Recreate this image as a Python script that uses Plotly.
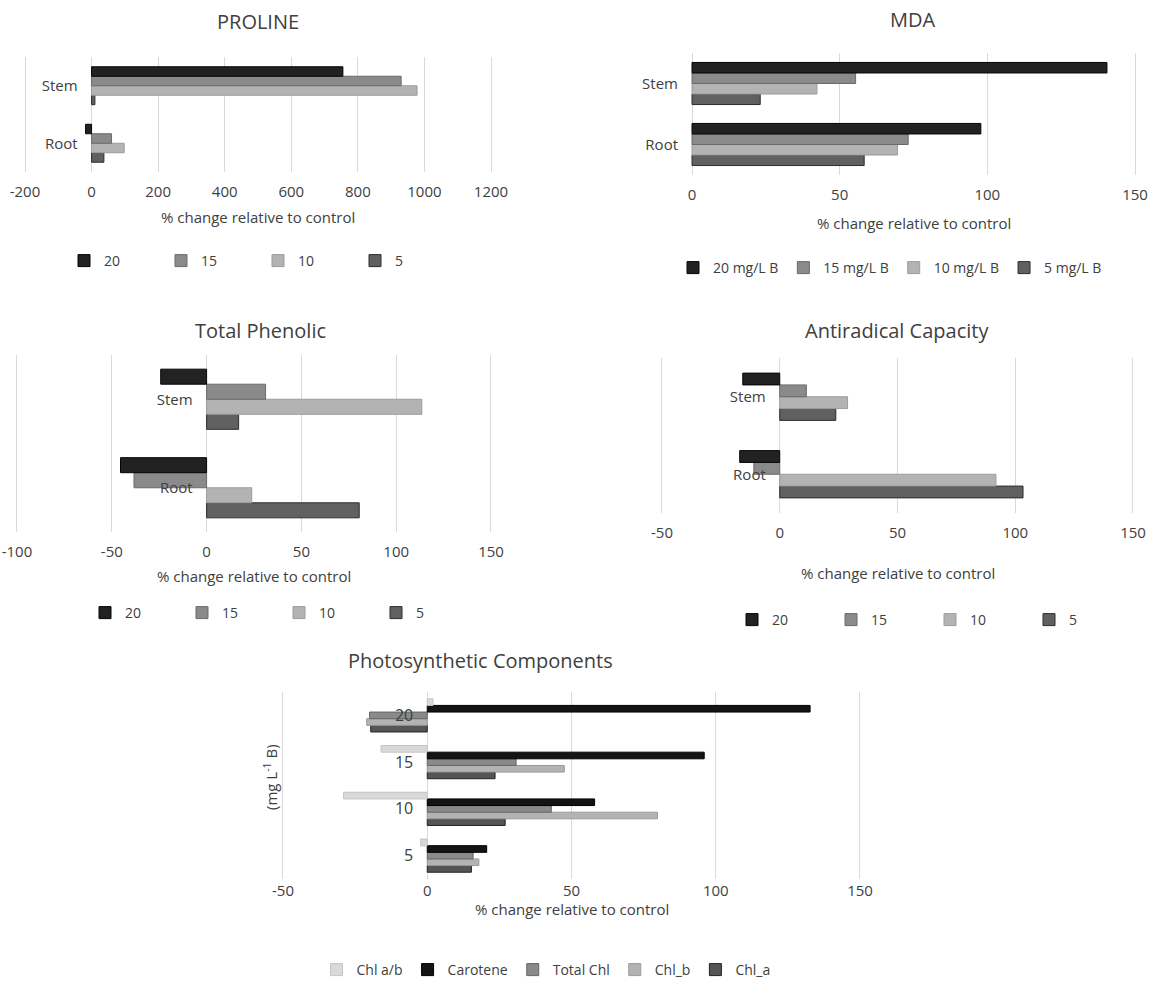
import plotly.graph_objects as go

W, H = 1153, 985

# ---------------- data ----------------
parts = ["Root", "Stem"]                      # bottom -> top
doses = ["5", "10", "15", "20"]               # trace order (bottom bar first)

proline_20 = [-18, 755]
proline_15 = [60, 930]
proline_10 = [98, 978]
proline_5 = [37, 10]

mda_20 = [97.8, 140.5]
mda_15 = [73.2, 55.4]
mda_10 = [69.6, 42.3]
mda_5 = [58.3, 23.1]

phen_20 = [-45.4, -24.2]
phen_15 = [-38.3, 31.1]
phen_10 = [23.8, 113.5]
phen_5 = [80.5, 16.9]

anti_20 = [-17.0, -15.7]
anti_15 = [-11.0, 11.3]
anti_10 = [91.8, 28.8]
anti_5 = [103.3, 23.8]

ps_doses = ["5", "10", "15", "20"]            # bottom -> top
ps_names = ["Chl_a", "Chl_b", "Total Chl", "Carotene", "Chl a/b"]  # bottom bar first
chl_a = [15.3, 27.0, 23.5, -19.6]
chl_b = [17.9, 79.8, 47.5, -21.0]
total_chl = [15.9, 43.0, 30.8, -20.0]
carotene = [20.6, 58.0, 96.0, 132.7]
chl_ab = [-2.3, -29.0, -16.0, 2.0]

proline_ticks = [-200, 0, 200, 400, 600, 800, 1000, 1200]
mda_ticks = [0, 50, 100, 150]
phen_ticks = [-100, -50, 0, 50, 100, 150]
anti_ticks = [-50, 0, 50, 100, 150]
ps_ticks = [-50, 0, 50, 100, 150]

x_title = "% change relative to control"

# ---------------- styles ----------------
dose_fill = {"20": "#222222", "15": "#8a8a8a", "10": "#b3b3b3", "5": "#606060"}
dose_line = {"20": "#050505", "15": "#6a6a6a", "10": "#9c9c9c", "5": "#2e2e2e"}
ps_fill = {"Chl_a": "#555555", "Chl_b": "#b3b3b3", "Total Chl": "#8a8a8a",
           "Carotene": "#141414", "Chl a/b": "#d9d9d9"}
ps_line = {"Chl_a": "#222222", "Chl_b": "#9a9a9a", "Total Chl": "#666666",
           "Carotene": "#000000", "Chl a/b": "#c4c4c4"}

FONT = "Open Sans"
TXT = "#404040"
GRID = "#d9d9d9"


def fx(px):
    return px / W


def fy(py):
    return 1 - py / H


fig = go.Figure()
layout = {}
annotations = []


def add_panel(idx, cats, series, names, fills, lines, ticks,
              xdom, ydom, frac, legend_id, legend_cfg, title, title_xy,
              xtitle_y, tickfont=15, xstandoff=9):
    xa = "x" if idx == 1 else f"x{idx}"
    ya = "y" if idx == 1 else f"y{idx}"
    n = len(series)
    w = frac / n
    for i, (name, vals) in enumerate(zip(names, series)):
        fig.add_trace(go.Bar(
            y=cats, x=vals, name=name, orientation="h",
            xaxis=xa, yaxis=ya, legend=legend_id,
            width=w, offset=-frac / 2 + i * w,
            marker=dict(color=fills[name], line=dict(color=lines[name], width=1)),
        ))
    lo, hi = ticks[0], ticks[-1]
    k = (xdom[1] - xdom[0]) / (hi - lo)          # px per unit
    eps = (hi - lo) * 0.003                       # tiny pad so edge gridlines show
    xr = [lo - eps, hi + eps]
    xd = [xdom[0] - eps * k, xdom[1] + eps * k]
    zero_px = xdom[0] + (0 - lo) * k
    xkey = "xaxis" if idx == 1 else f"xaxis{idx}"
    ykey = "yaxis" if idx == 1 else f"yaxis{idx}"
    layout[xkey] = dict(
        domain=[fx(xd[0]), fx(xd[1])], anchor=ya, range=xr,
        tickmode="array", tickvals=ticks, ticktext=[str(t) for t in ticks],
        showgrid=True, gridcolor=GRID, gridwidth=1,
        zeroline=False, showline=False, ticks="", ticklabelstandoff=xstandoff,
        tickfont=dict(size=15, color=TXT, family=FONT), fixedrange=True,
    )
    layout[ykey] = dict(
        domain=[fy(ydom[1]), fy(ydom[0])], anchor="free",
        position=fx(zero_px), type="category", categoryorder="array",
        categoryarray=cats, showgrid=False, zeroline=False, showline=False,
        ticks="", ticklabelstandoff=14,
        tickfont=dict(size=tickfont, color=TXT, family=FONT), fixedrange=True,
    )
    layout[legend_id] = dict(
        orientation="h", traceorder="reversed", itemwidth=30,
        font=dict(size=14, color=TXT, family=FONT), bgcolor="rgba(0,0,0,0)",
        yanchor="middle", **legend_cfg,
    )
    annotations.append(dict(
        text=title, x=fx(title_xy[0]), y=fy(title_xy[1]), xref="paper", yref="paper",
        showarrow=False, xanchor="center", yanchor="middle",
        font=dict(size=20, color=TXT, family=FONT),
    ))
    annotations.append(dict(
        text=x_title, x=fx((xdom[0] + xdom[1]) / 2), y=fy(xtitle_y),
        xref="paper", yref="paper", showarrow=False, xanchor="center",
        yanchor="middle", font=dict(size=15, color=TXT, family=FONT),
    ))


# PROLINE
add_panel(1, parts, [proline_5, proline_10, proline_15, proline_20], doses,
          dose_fill, dose_line, proline_ticks, (25, 491), (57, 172), 0.66,
          "legend", dict(x=fx(64), y=fy(261), xanchor="left", entrywidth=52),
          "PROLINE", (258, 21), 217)

# MDA
mda_names = ["5 mg/L B", "10 mg/L B", "15 mg/L B", "20 mg/L B"]
mda_fill = {f"{d} mg/L B": dose_fill[d] for d in doses}
mda_line = {f"{d} mg/L B": dose_line[d] for d in doses}
add_panel(2, parts, [mda_5, mda_10, mda_15, mda_20], mda_names,
          mda_fill, mda_line, mda_ticks, (692, 1135), (53, 175), 0.69,
          "legend2", dict(x=fx(890), y=fy(268), xanchor="center"),
          "MDA", (913, 20), 223)

# Total Phenolic
add_panel(3, parts, [phen_5, phen_10, phen_15, phen_20], doses,
          dose_fill, dose_line, phen_ticks, (17, 491), (355, 532), 0.68,
          "legend3", dict(x=fx(85), y=fy(613), xanchor="left", entrywidth=52),
          "Total Phenolic", (260, 331), 576)

# Antiradical Capacity
add_panel(4, parts, [anti_5, anti_10, anti_15, anti_20], doses,
          dose_fill, dose_line, anti_ticks, (662, 1133), (358, 513), 0.61,
          "legend4", dict(x=fx(732), y=fy(620), xanchor="left", entrywidth=54),
          "Antiradical Capacity", (897, 331), 573)

# Photosynthetic Components
add_panel(5, ps_doses, [chl_a, chl_b, total_chl, carotene, chl_ab], ps_names,
          ps_fill, ps_line, ps_ticks, (283, 860), (692, 879), 0.71,
          "legend5", dict(x=fx(546), y=fy(970), xanchor="center"),
          "Photosynthetic Components", (480, 660), 909, tickfont=16, xstandoff=1)

annotations.append(dict(
    text="(mg L<sup>-1</sup> B)", x=fx(270), y=fy(777), xref="paper", yref="paper",
    showarrow=False, textangle=-90, xanchor="center", yanchor="middle",
    font=dict(size=15, color=TXT, family=FONT),
))

fig.update_layout(
    width=W, height=H,
    margin=dict(l=0, r=0, t=0, b=0, pad=0, autoexpand=False),
    paper_bgcolor="white", plot_bgcolor="white",
    barmode="overlay", showlegend=True,
    font=dict(family=FONT, color=TXT),
    annotations=annotations, **layout,
)

fig.write_html("out.html")
